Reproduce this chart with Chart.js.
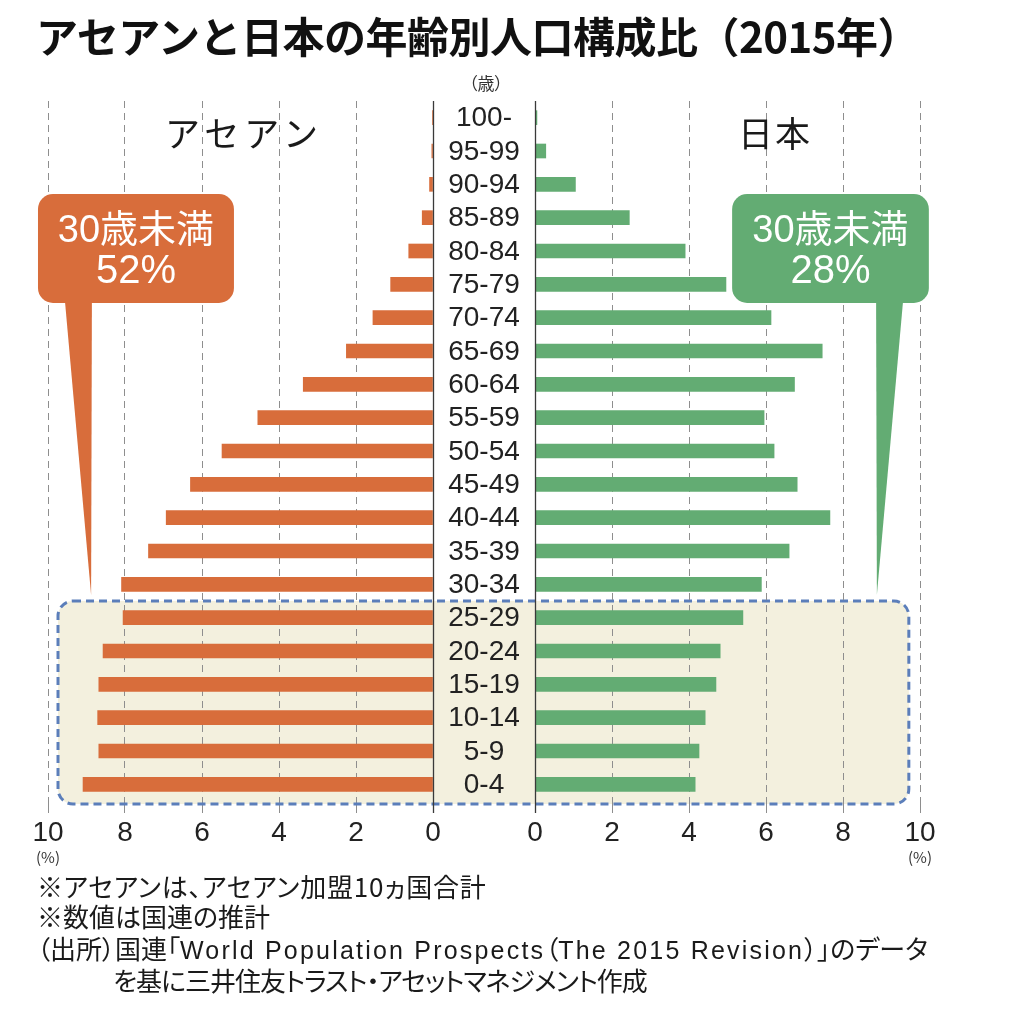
<!DOCTYPE html>
<html><head><meta charset="utf-8">
<script src="https://cdn.jsdelivr.net/npm/chart.js@4.4.1/dist/chart.umd.min.js"></script>
<style>
html,body{margin:0;padding:0;background:#fff;}
body{width:1014px;height:1024px;position:relative;overflow:hidden;font-family:'Noto Sans CJK JP',sans-serif;color:#1a1a1a;}
canvas.c{position:absolute;left:0;top:0;}
#cl{z-index:1}
#cr{z-index:2}
.t{position:absolute;z-index:3;white-space:nowrap;line-height:1;}
#title{left:36px;top:14px;font-size:42px;font-weight:700;color:#111;letter-spacing:-0.5px;}
#sai{left:486px;top:74px;font-size:17px;transform:translateX(-50%);color:#333;font-feature-settings:"palt";}
#asean{left:165px;top:114px;font-size:35px;letter-spacing:5px;color:#1a1a1a;}
#japan{left:738px;top:114px;font-size:35px;letter-spacing:2px;color:#1a1a1a;}
.pct{top:849px;font-size:15px;color:#333;transform:translateX(-50%);}
.fn{left:37px;font-size:26px;color:#1a1a1a;font-feature-settings:"palt";}
.lat{font-family:'Liberation Sans',sans-serif;font-size:25px;letter-spacing:2.2px;}
</style></head>
<body>
<div class="t" id="title">アセアンと日本の年齢別人口構成比（2015年）</div>
<div class="t" id="sai">（歳）</div>
<div class="t" id="asean">アセアン</div>
<div class="t" id="japan">日本</div>
<div class="t pct" style="left:48px">(%)</div>
<div class="t pct" style="left:920px">(%)</div>
<div class="t fn" style="top:873px;letter-spacing:0.8px">※アセアンは、アセアン加盟10ヵ国合計</div>
<div class="t fn" style="top:903px">※数値は国連の推計</div>
<div class="t fn" style="top:935px">（出所）国連「<span class="lat">World Population Prospects</span>（<span class="lat">The 2015 Revision</span>）」のデータ</div>
<div class="t fn" style="top:967px;left:113px;letter-spacing:-1px">を基に三井住友トラスト・アセットマネジメント作成</div>
<canvas class="c" id="cl" width="1014" height="870"></canvas>
<canvas class="c" id="cr" width="1014" height="870"></canvas>
<script>
// ---- data ----
const ageGroups = ['100-','95-99','90-94','85-89','80-84','75-79','70-74','65-69','60-64','55-59','50-54','45-49','40-44','35-39','30-34','25-29','20-24','15-19','10-14','5-9','0-4'];
const aseanShare = [0.01,0.03,0.09,0.28,0.63,1.10,1.56,2.25,3.37,4.55,5.48,6.30,6.93,7.39,8.09,8.05,8.57,8.68,8.71,8.68,9.09];
const japanShare = [0.05,0.28,1.05,2.45,3.90,4.96,6.13,7.46,6.74,5.95,6.21,6.81,7.66,6.60,5.88,5.40,4.81,4.70,4.42,4.26,4.16];
const xTickValues = [0,2,4,6,8,10];
const calloutHead = '30歳未満';
const aseanUnder30 = '52%';
const japanUnder30 = '28%';

const ORANGE = '#D86D3B', GREEN = '#63AC73';

function rrPath(ctx,x0,y0,x1,y1,r){
  ctx.beginPath();
  ctx.moveTo(x0+r,y0);
  ctx.arcTo(x1,y0,x1,y1,r);
  ctx.arcTo(x1,y1,x0,y1,r);
  ctx.arcTo(x0,y1,x0,y0,r);
  ctx.arcTo(x0,y0,x1,y0,r);
  ctx.closePath();
}

function drawCallout(chart, color, boxFrom, boxTo, tailA, tailB, tip, pct){
  const ctx = chart.ctx, xs = chart.scales.x, ys = chart.scales.y;
  const bx0 = Math.min(xs.getPixelForValue(boxFrom), xs.getPixelForValue(boxTo));
  const bx1 = Math.max(xs.getPixelForValue(boxFrom), xs.getPixelForValue(boxTo));
  const by0 = ys.getPixelForValue(2.29), by1 = ys.getPixelForValue(5.56);
  const tipY = ys.getPixelForValue(14.32);
  ctx.save();
  ctx.fillStyle = color;
  rrPath(ctx,bx0,by0,bx1,by1,15);
  ctx.fill();
  ctx.beginPath();
  ctx.moveTo(xs.getPixelForValue(tailA), by1-2);
  ctx.lineTo(xs.getPixelForValue(tailB), by1-2);
  ctx.lineTo(xs.getPixelForValue(tip), tipY);
  ctx.closePath();
  ctx.fill();
  const cx = (bx0+bx1)/2, cy = (by0+by1)/2;
  ctx.fillStyle = '#fff';
  ctx.textAlign = 'center';
  ctx.textBaseline = 'middle';
  ctx.font = '38px "Liberation Sans","Noto Sans CJK JP"';
  ctx.fillText(calloutHead, cx, cy-17);
  ctx.font = '40px "Liberation Sans"';
  ctx.fillText(pct, cx, cy+23);
  ctx.restore();
}

function centerLine(chart){
  const ctx = chart.ctx, xs = chart.scales.x, a = chart.chartArea;
  const x = Math.round(xs.getPixelForValue(0))+0.5;
  ctx.save();
  ctx.strokeStyle = '#3a3a3a';
  ctx.lineWidth = 1.3;
  ctx.beginPath();
  ctx.moveTo(x, a.top);
  ctx.lineTo(x, a.bottom+12);
  ctx.stroke();
  ctx.restore();
}

let rightChart = null;

function baseOptions(isLeft){
  return {
    responsive:false,
    animation:false,
    indexAxis:'y',
    layout:{padding: isLeft ? {left:48,right:581,top:101,bottom:19} : {left:535,right:94,top:101,bottom:19}},
    plugins:{legend:{display:false},tooltip:{enabled:false}},
    scales:{
      x:{
        type:'linear', min:0, max:10, reverse:isLeft,
        afterBuildTicks: s => { s.ticks = xTickValues.map(v => ({value:v})); },
        afterFit: s => { s.height = 50; },
        grid:{color: c => (c.tick && c.tick.value === 0) ? 'rgba(0,0,0,0)' : '#8e8e8e', lineWidth:1, tickLength:12, drawTicks:true},
        border:{display:false, dash:[7,5]},
        ticks:{color:'#222', font:{family:'Liberation Sans', size:28}, padding:3, maxRotation:0, autoSkip:false}
      },
      y:{type:'category', labels:ageGroups, display:false, offset:true, grid:{display:false}}
    }
  };
}

const rightPlugin = {
  id:'rightDecor',
  afterDatasetsDraw(chart){ centerLine(chart); },
  afterDraw(chart){ drawCallout(chart, GREEN, 5.12, 10.23, 8.86, 9.56, 8.88, japanUnder30); }
};

rightChart = new Chart(document.getElementById('cr'), {
  type:'bar',
  data:{labels:ageGroups, datasets:[{label:'日本', data:japanShare, backgroundColor:GREEN, barThickness:14}]},
  options: baseOptions(false),
  plugins:[rightPlugin]
});

const leftPlugin = {
  id:'leftDecor',
  beforeDraw(chart){
    const ctx = chart.ctx, xs = chart.scales.x, ys = chart.scales.y, rx = rightChart.scales.x;
    const x0 = xs.getPixelForValue(9.74), x1 = rx.getPixelForValue(9.71);
    const y0 = ys.getPixelForValue(14.5), y1 = ys.getPixelForValue(20.59);
    ctx.save();
    rrPath(ctx,x0,y0,x1,y1,15);
    ctx.fillStyle = '#F3F0DE';
    ctx.fill();
    ctx.restore();
  },
  beforeDatasetsDraw(chart){
    const ctx = chart.ctx, xs = chart.scales.x, ys = chart.scales.y, rx = rightChart.scales.x;
    const x0 = xs.getPixelForValue(9.74), x1 = rx.getPixelForValue(9.71);
    const y0 = ys.getPixelForValue(14.5), y1 = ys.getPixelForValue(20.59);
    ctx.save();
    rrPath(ctx,x0,y0,x1,y1,15);
    ctx.setLineDash([8,5]);
    ctx.lineWidth = 3;
    ctx.strokeStyle = '#5B7EBA';
    ctx.stroke();
    ctx.restore();
  },
  afterDatasetsDraw(chart){ centerLine(chart); },
  afterDraw(chart){
    const ctx = chart.ctx, xs = chart.scales.x, ys = chart.scales.y, rx = rightChart.scales.x;
    const cx = (xs.getPixelForValue(0) + rx.getPixelForValue(0))/2;
    ctx.save();
    ctx.fillStyle = '#222';
    ctx.textAlign = 'center';
    ctx.textBaseline = 'middle';
    ctx.font = '28px "Liberation Sans"';
    ageGroups.forEach((g,i) => ctx.fillText(g, cx, ys.getPixelForValue(i)+1));
    ctx.restore();
    drawCallout(chart, ORANGE, 10.26, 5.17, 9.56, 8.86, 8.88, aseanUnder30);
  }
};

new Chart(document.getElementById('cl'), {
  type:'bar',
  data:{labels:ageGroups, datasets:[{label:'アセアン', data:aseanShare, backgroundColor:ORANGE, barThickness:14}]},
  options: baseOptions(true),
  plugins:[leftPlugin]
});
</script>
</body></html>
